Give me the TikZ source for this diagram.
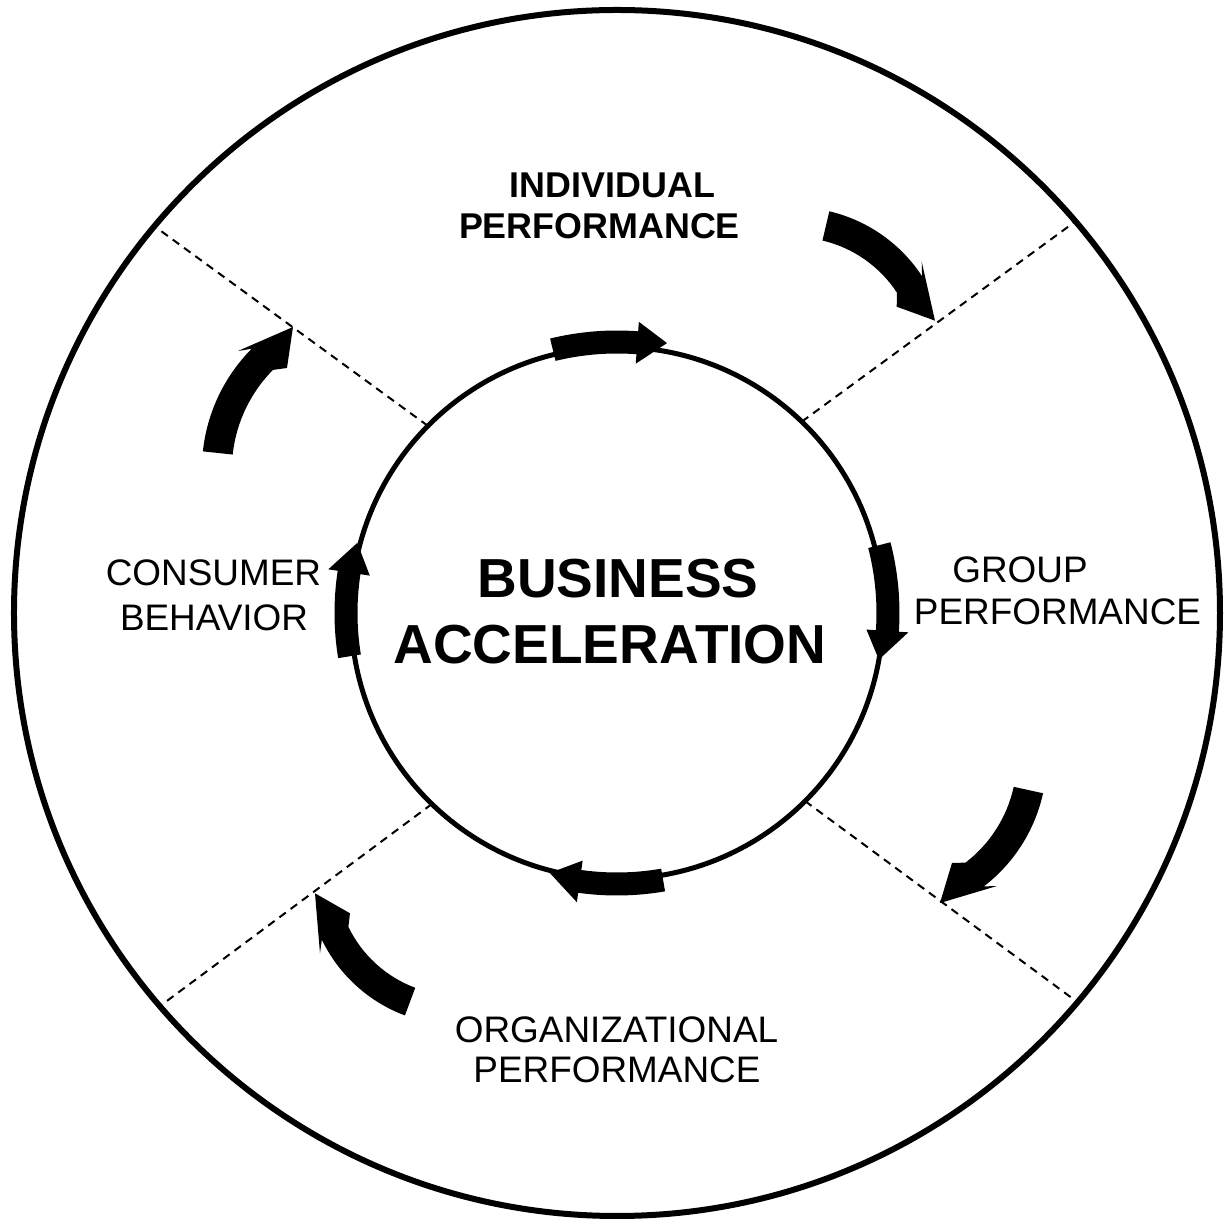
\documentclass[tikz,border=0pt]{standalone}
\usepackage{fontspec}
\setmainfont{Liberation Sans}
\usetikzlibrary{calc}

\begin{document}
\begin{tikzpicture}[
	ringtext/.style={font=\fontsize{21}{25}\selectfont, inner sep=0pt},
	ringbold/.style={font=\fontsize{20.4}{24}\selectfont\bfseries, inner sep=0pt},
	hubtext/.style={font=\fontsize{31.3}{36}\selectfont\bfseries, inner sep=0pt},
	divider/.style={line width=0.04cm, dash pattern=on 0.16cm off 0.12cm},
	blockarrow/.style={fill=black}
	]
	
		\useasboundingbox (-12.34,-12.14) rectangle (12.16,12.26);
		
		% outer ring
		\draw[line width=0.12cm] (0,0) circle (12.06);
		
		% inner circle
		\draw[line width=0.1cm] (0,0) circle (5.32);
		
		% dashed dividers between the sectors
		\draw[divider] (46:5.32) -- (40.5:12.06);
		\draw[divider] (135.3:5.32) -- (140.1:12.06);
		\draw[divider] (-134.1:5.32) -- (-139.3:12.06);
		\draw[divider] (-45:5.32) -- (-40.2:12.06);
		
		% centres of the big curved arrows
		\coordinate (urc) at (3.55,5.064);
		\coordinate (lrc) at (5.376,-2.914);
		\coordinate (llc) at (-3.184,-5.22);
		\coordinate (ulc) at (-4.872,2.868);
		
		%draw big arrows (clockwise)
		\fill[blockarrow] ($(urc)+(76.8:3.05)$) arc[start angle=76.8, end angle=33.2, radius=3.05]
			-- (6.094,7.026) -- (6.36,5.846) -- (5.594,6.126)
			-- ($(urc)+(33.2:2.45)$) arc[start angle=33.2, end angle=76.8, radius=2.45] -- cycle;
		\fill[blockarrow] ($(lrc)+(-12.4:3.22)$) arc[start angle=-12.4, end angle=-52.5, radius=3.22]
			-- (7.60,-5.46) -- (6.46,-5.80) -- (6.70,-5.00)
			-- ($(lrc)+(-52.5:2.62)$) arc[start angle=-52.5, end angle=-12.4, radius=2.62] -- cycle;
		\fill[blockarrow] ($(llc)+(-110.5:3.02)$) arc[start angle=-110.5, end angle=-154.2, radius=3.02]
			-- (-5.94,-6.806) -- (-6.04,-5.606) -- (-5.34,-6.006)
			-- ($(llc)+(-154.2:2.43)$) arc[start angle=-154.2, end angle=-110.5, radius=2.43] -- cycle;
		\fill[blockarrow] ($(ulc)+(173.9:3.43)$) arc[start angle=173.9, end angle=135.2, radius=3.43]
			-- (-7.58,5.24) -- (-6.48,5.72) -- (-6.60,4.90)
			-- ($(ulc)+(135.2:2.83)$) arc[start angle=135.2, end angle=173.9, radius=2.83] -- cycle;
		
		%draw small arrows on the inner circle
		\fill[blockarrow] (103.7:5.65) arc[start angle=103.7, end angle=85.7, radius=5.65]
			-- (85.7:5.84) -- (79.5:5.49) -- (85.7:5.0)
			-- (85.7:5.19) arc[start angle=85.7, end angle=103.7, radius=5.19] -- cycle;
		\fill[blockarrow] (14.5:5.65) arc[start angle=14.5, end angle=-3.8, radius=5.65]
			-- (-3.8:5.84) -- (-10.1:5.32) -- (-3.8:5.0)
			-- (-3.8:5.19) arc[start angle=-3.8, end angle=14.5, radius=5.19] -- cycle;
		\fill[blockarrow] (-80.2:5.65) arc[start angle=-80.2, end angle=-97.9, radius=5.65]
			-- (-97.9:5.84) -- (-104.5:5.37) -- (-97.9:5.0)
			-- (-97.9:5.19) arc[start angle=-97.9, end angle=-80.2, radius=5.19] -- cycle;
		\fill[blockarrow] (189.2:5.65) arc[start angle=189.2, end angle=171.4, radius=5.65]
			-- (171.4:5.84) -- (164.9:5.38) -- (171.4:5.0)
			-- (171.4:5.19) arc[start angle=171.4, end angle=189.2, radius=5.19] -- cycle;
		
		% labels
		\node[ringbold] (indiv) at (-0.09, 8.56) {INDIVIDUAL};
		\node[ringbold] (indivperf) at (-0.35, 7.73) {PERFORMANCE};
		\node[ringtext] (group) at (8.06, 0.86) {GROUP};
		\node[ringtext] (groupperf) at (8.81, 0.03) {PERFORMANCE};
		\node[ringtext] (organiz) at (-0.01, -8.34) {ORGANIZATIONAL};
		\node[ringtext] (organizperf) at (0, -9.14) {PERFORMANCE};
		\node[ringtext] (consumer) at (-8.07, 0.80) {CONSUMER};
		\node[ringtext] (behavior) at (-8.06, -0.10) {BEHAVIOR};
		
		\node[hubtext] (business) at (0.02, 0.68) {BUSINESS};
		\node[hubtext] (accel) at (-0.14, -0.64) {ACCELERATION};
	
\end{tikzpicture}
\end{document}
